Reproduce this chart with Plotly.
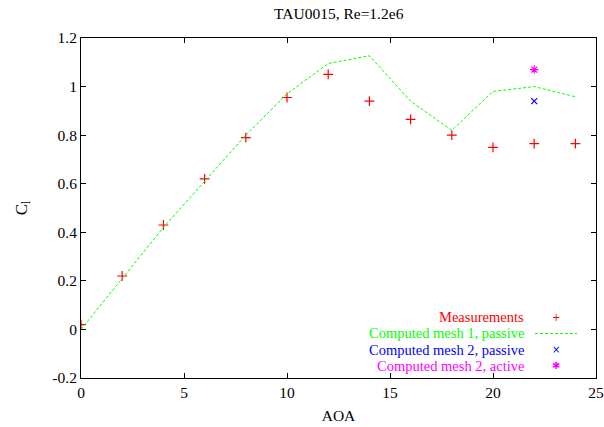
import plotly.graph_objects as go

# Lift coefficient versus angle of attack
aoa_meas = [0, 2, 4, 6, 8, 10, 12, 14, 16, 18, 20, 22, 24]
cl_meas = [0.02, 0.22, 0.43, 0.62, 0.79, 0.955, 1.05, 0.94, 0.865, 0.80, 0.75, 0.765, 0.765]

aoa_mesh1 = [0, 2, 4, 6, 8, 10, 12, 14, 16, 18, 20, 22, 24]
cl_mesh1 = [0.0, 0.21, 0.42, 0.61, 0.80, 0.97, 1.095, 1.127, 0.94, 0.82, 0.98, 1.0, 0.958]

aoa_mesh2_passive = [22]
cl_mesh2_passive = [0.94]

aoa_mesh2_active = [22]
cl_mesh2_active = [1.07]

y_ticks = [-0.2, 0, 0.2, 0.4, 0.6, 0.8, 1.0, 1.2]
y_tick_text = ["-0.2", "0", "0.2", "0.4", "0.6", "0.8", "1", "1.2"]
x_ticks = [0, 5, 10, 15, 20, 25]

legend_labels = ["Measurements", "Computed mesh 1, passive",
                 "Computed mesh 2, passive", "Computed mesh 2, active"]
legend_colors = ["#ff0000", "#00ff00", "#0000ff", "#ff00ff"]
legend_glyphs = ["+", None, "×", "✱"]

FONT = "Liberation Serif, Times New Roman, serif"
FS = 15.5
KEY_FS = 14.5

fig = go.Figure()
fig.add_trace(go.Scatter(
    x=aoa_meas, y=cl_meas, mode="markers",
    marker=dict(symbol="cross-thin", size=7, line=dict(color="#ff0000", width=1.2)),
    showlegend=False))
fig.add_trace(go.Scatter(
    x=aoa_mesh1, y=cl_mesh1, mode="lines",
    line=dict(color="#00ff00", width=1, dash="3px,2px"),
    showlegend=False))
fig.add_trace(go.Scatter(
    x=aoa_mesh2_passive, y=cl_mesh2_passive, mode="markers",
    marker=dict(symbol="x-thin", size=6, line=dict(color="#0000ff", width=1.2)),
    showlegend=False))
fig.add_trace(go.Scatter(
    x=aoa_mesh2_active, y=cl_mesh2_active, mode="markers",
    marker=dict(symbol="asterisk", size=7, line=dict(color="#ff00ff", width=1.2)),
    showlegend=False))

# gnuplot-style key: right-aligned labels with samples to their right
row_y = [0.1785, 0.1309, 0.0832, 0.0356]
for label, color, glyph, yy in zip(legend_labels, legend_colors, legend_glyphs, row_y):
    fig.add_annotation(x=0.862, y=yy, xref="paper", yref="paper", text=label,
                       showarrow=False, xanchor="right", yanchor="middle", borderpad=0,
                       font=dict(family=FONT, size=KEY_FS, color=color))
    if glyph is None:
        fig.add_shape(type="line", xref="paper", yref="paper",
                      x0=0.8816, x1=0.963, y0=yy, y1=yy,
                      line=dict(color=color, width=1, dash="3px,2px"))
    else:
        fig.add_annotation(x=0.922, y=yy, xref="paper", yref="paper", text=glyph,
                           showarrow=False, xanchor="center", yanchor="middle", borderpad=0,
                           font=dict(family="DejaVu Sans", size=10, color=color))

axis_common = dict(showgrid=False, zeroline=False, showline=True, linecolor="#000000",
                   linewidth=1, mirror="ticks", ticks="inside", ticklen=5,
                   tickcolor="#000000", automargin=False, ticklabeloverflow="allow",
                   tickfont=dict(family=FONT, size=FS, color="#000000"))

fig.update_layout(
    width=604, height=427,
    margin=dict(l=81, r=8, t=38, b=49),
    paper_bgcolor="white", plot_bgcolor="white",
    font=dict(family=FONT, size=FS, color="#000000"),
    title=dict(text="TAU0015, Re=1.2e6", x=0.5608, xanchor="center",
               y=1 - 14 / 427, yanchor="middle", yref="container",
               font=dict(family=FONT, size=FS, color="#000000")),
    xaxis=dict(range=[0, 25], tickvals=x_ticks,
               title=dict(text="AOA", font=dict(family=FONT, size=FS, color="#000000"),
                          standoff=10),
               **axis_common),
    yaxis=dict(range=[-0.2, 1.2], tickvals=y_ticks, ticktext=y_tick_text,
               title=dict(text="C<sub>l</sub>", font=dict(family=FONT, size=17, color="#000000"),
                          standoff=20),
               **axis_common),
)

fig.write_html("out.html")
